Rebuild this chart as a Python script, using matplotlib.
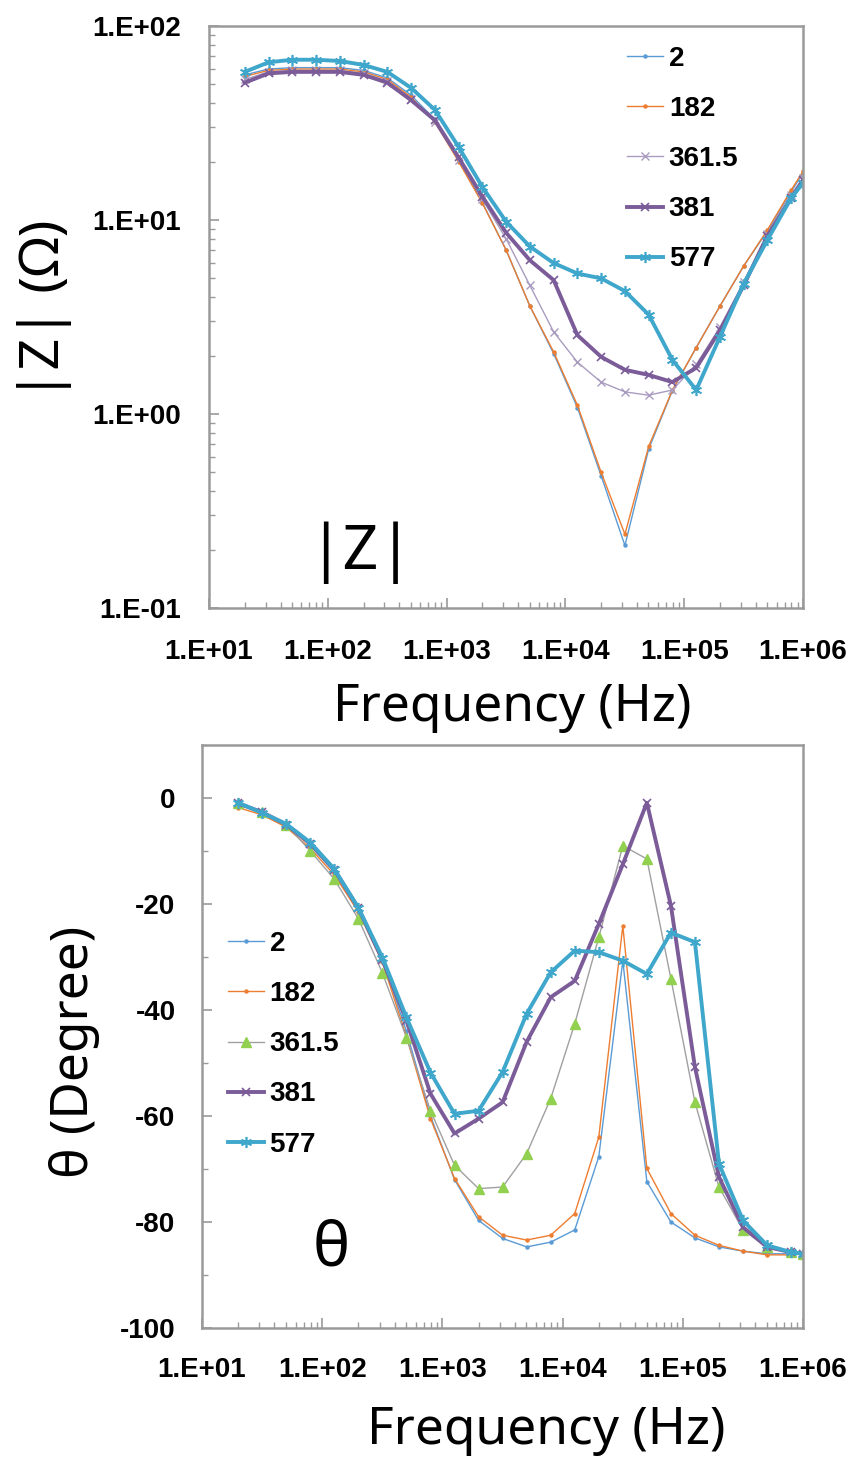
import matplotlib
matplotlib.use("Agg")
import matplotlib.pyplot as plt
from matplotlib.ticker import LogLocator, NullFormatter, MultipleLocator

# ---------------- data ----------------
freq = [20, 31.7, 50.2, 79.6, 126, 200, 317, 502, 796, 1262, 2000, 3170, 5024,
        7962, 12619, 20000, 31698, 50238, 79621, 126191, 200000, 316979,
        502377, 796214, 1000000]

series_names = ["2", "182", "361.5", "381", "577"]

Z_2 = [56, 60, 61, 61, 61, 59, 54, 44, 33, 20.5, 12.3, 7.0, 3.6, 2.05, 1.08,
       0.48, 0.21, 0.66, 1.32, 2.2, 3.6, 5.8, 8.8, 14.0, 17.5]
Z_182 = [55, 59, 60, 60, 60, 58, 53, 43, 32, 20, 12.2, 7.0, 3.6, 2.09, 1.11,
         0.50, 0.24, 0.68, 1.33, 2.2, 3.6, 5.8, 8.9, 14.3, 17.8]
Z_361 = [53, 58, 59, 59, 59, 57, 52, 42, 32, 20.5, 12.8, 8.0, 4.6, 2.65, 1.85,
         1.46, 1.30, 1.25, 1.33, 1.8, 2.8, 4.8, 8.5, 13.5, 16.5]
Z_381 = [51, 57, 58, 58, 58, 56, 51, 41.5, 32.7, 21, 13.2, 8.6, 6.2, 4.9, 2.55,
         1.97, 1.69, 1.59, 1.46, 1.73, 2.7, 4.6, 8.3, 13, 16]
Z_577 = [58, 65, 67, 67, 66, 63, 58, 48, 37, 23.8, 14.8, 9.8, 7.3, 6.0, 5.3,
         5.0, 4.3, 3.25, 1.9, 1.33, 2.5, 4.7, 7.9, 13.0, 15.5]

T_2 = [-1.2, -2.8, -5, -9, -14, -21, -30.5, -44, -60, -72, -79.7, -83.1, -84.7,
       -83.8, -81.5, -67.7, -30.7, -72.4, -80, -83, -84.7, -85.5, -86, -86, -86]
T_182 = [-1.8, -3.2, -5.5, -9.5, -14.5, -21.5, -31, -45, -60.5, -71.8, -79,
         -82.5, -83.4, -82.5, -78.4, -64, -24.1, -69.9, -78.4, -82.5, -84.4,
         -85.5, -86.2, -86.2, -86]
T_361 = [-1, -2.6, -5, -10, -15.3, -22.8, -33, -45.2, -59, -69.3, -73.7, -73.4,
         -67.1, -56.7, -42.6, -26.3, -9.0, -11.5, -34.1, -57.4, -73.4, -81.5,
         -84.7, -85.7, -86]
T_381 = [-1, -2.7, -5, -8.6, -13.5, -20.8, -30.5, -42, -55.8, -63.3, -60.5,
         -57.4, -46, -37.6, -34.5, -23.8, -12.5, -0.9, -20.3, -50.8, -71.5, -81,
         -84.7, -85.7, -86]
T_577 = [-0.9, -2.8, -4.9, -8.4, -13.4, -20.7, -30.1, -41.4, -51.8, -59.6, -59,
         -51.7, -40.7, -32.9, -28.8, -29.1, -30.7, -33.2, -25.4, -27.2, -69,
         -79.7, -84.4, -85.7, -86]

x_ticks = [1e1, 1e2, 1e3, 1e4, 1e5, 1e6]
x_tick_labels = ["1.E+01", "1.E+02", "1.E+03", "1.E+04", "1.E+05", "1.E+06"]
z_ticks = [1e-1, 1e0, 1e1, 1e2]
z_tick_labels = ["1.E-01", "1.E+00", "1.E+01", "1.E+02"]
t_ticks = [-100, -80, -60, -40, -20, 0]
t_tick_labels = ["-100", "-80", "-60", "-40", "-20", "0"]

# ---------------- style ----------------
c_blue = "#5b9bd5"
c_orange = "#ed7d31"
c_lav = "#a99cc0"
c_purple = "#7b5c99"
c_cyan = "#3fa7cb"
c_green = "#92d050"
c_gray = "#a0a0a0"
spine_c = "#9a9a9a"

tick_font = dict(family="Liberation Sans", weight="bold", size=20)
label_font = dict(family="Noto Sans", size=37)

fig = plt.figure(figsize=(8.57, 14.59), dpi=100)
ax1 = fig.add_axes([209/857, 1-608/1459, 594/857, 582/1459])
ax2 = fig.add_axes([202/857, 1-1328/1459, 601/857, 583/1459])

asterisk = (6, 2, 0)

# top |Z|
ax1.plot(freq, Z_2, color=c_blue, lw=1.0, marker="o", ms=2.2, label="2")
ax1.plot(freq, Z_182, color=c_orange, lw=1.0, marker="o", ms=2.2, label="182")
ax1.plot(freq, Z_361, color=c_lav, lw=1.0, marker="x", ms=6, mew=1.0, label="361.5")
ax1.plot(freq, Z_381, color=c_purple, lw=2.8, marker="x", ms=6, mew=1.2, label="381")
ax1.plot(freq, Z_577, color=c_cyan, lw=2.8, marker=asterisk, ms=8, mew=1.2, label="577")
ax1.set_xscale("log")
ax1.set_yscale("log")
ax1.set_xlim(10, 1e6)
ax1.set_ylim(0.1, 100)

# bottom theta
ax2.plot(freq, T_2, color=c_blue, lw=1.0, marker="o", ms=2.2, label="2")
ax2.plot(freq, T_182, color=c_orange, lw=1.0, marker="o", ms=2.2, label="182")
ax2.plot(freq, T_361, color=c_gray, lw=1.0, marker="^", ms=7, mfc=c_green,
         mec=c_green, label="361.5")
ax2.plot(freq, T_381, color=c_purple, lw=2.8, marker="x", ms=6, mew=1.2, label="381")
ax2.plot(freq, T_577, color=c_cyan, lw=2.8, marker=asterisk, ms=8, mew=1.2, label="577")
ax2.set_xscale("log")
ax2.set_xlim(10, 1e6)
ax2.set_ylim(-100, 10)

for ax in (ax1, ax2):
    for s in ax.spines.values():
        s.set_color(spine_c)
        s.set_linewidth(1.8)
    ax.set_xticks(x_ticks, x_tick_labels)
    ax.xaxis.set_minor_locator(LogLocator(base=10, subs=range(2, 10), numticks=20))
    ax.xaxis.set_minor_formatter(NullFormatter())
    ax.tick_params(axis="both", which="both", direction="in", color=spine_c,
                   top=False, right=False)
    ax.tick_params(axis="both", which="major", length=7, width=1.2)
    ax.tick_params(axis="both", which="minor", length=4, width=1.0)

ax1.tick_params(axis="x", which="major", pad=22)
ax1.tick_params(axis="y", which="major", pad=20)
ax2.tick_params(axis="x", which="major", pad=21)
ax2.tick_params(axis="y", which="major", pad=19)

ax1.set_yticks(z_ticks, z_tick_labels)
ax1.yaxis.set_minor_locator(LogLocator(base=10, subs=range(2, 10), numticks=20))
ax1.yaxis.set_minor_formatter(NullFormatter())
ax2.set_yticks(t_ticks, t_tick_labels)
ax2.yaxis.set_minor_locator(MultipleLocator(10))
for ax in (ax1, ax2):
    for lab in ax.get_xticklabels() + ax.get_yticklabels():
        lab.set(**tick_font)

leg_kw = dict(frameon=False, loc="upper left", borderpad=0, borderaxespad=0,
              handlelength=1.3, handletextpad=0.2, labelspacing=0.87,
              prop=dict(family="Liberation Sans", weight="bold", size=20))
ax1.legend(bbox_to_anchor=(0.704, 0.966), **leg_kw)
ax2.legend(bbox_to_anchor=(0.043, 0.681), **leg_kw)

# in-plot titles
ax1.text(0.255, 0.095, "|Z|", transform=ax1.transAxes, ha="center", va="center",
         family="Noto Sans", size=45)
ax2.text(0.215, 0.135, "θ", transform=ax2.transAxes, ha="center", va="center",
         family="Noto Sans", size=45)

# axis labels
fig.text(512/857, 1-708/1459, "Frequency (Hz)", ha="center", va="center", **label_font)
fig.text(546/857, 1-1430/1459, "Frequency (Hz)", ha="center", va="center", **label_font)
fig.text(45/857, 1-310/1459, "|Z| (Ω)", ha="center", va="center", rotation=90,
         family="Noto Sans", size=40)
fig.text(75/857, 1-1052/1459, "θ (Degree)", ha="center", va="center", rotation=90, **label_font)

fig.savefig("out.png", dpi=100)
